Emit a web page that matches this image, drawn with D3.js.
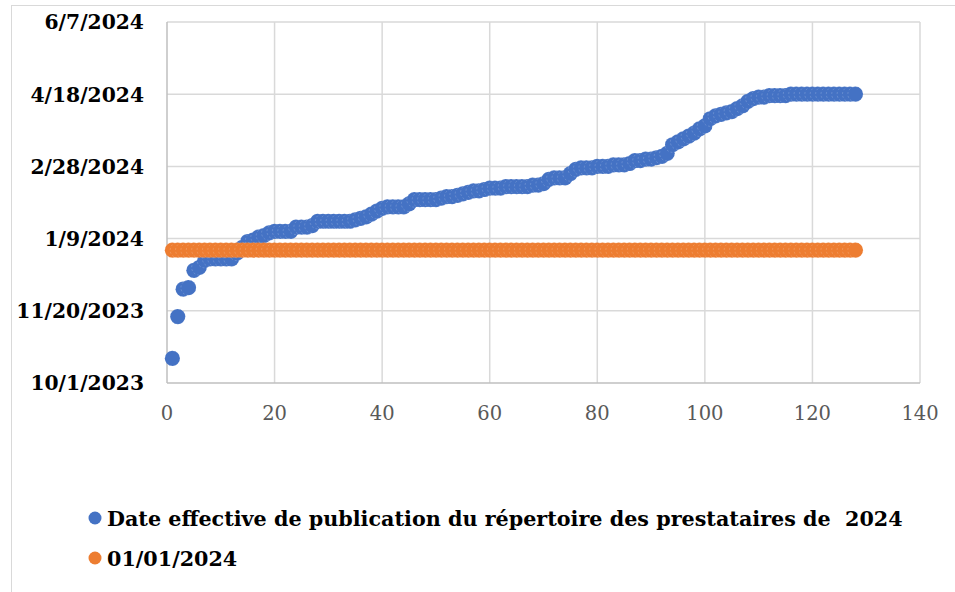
<!DOCTYPE html>
<html>
<head>
<meta charset="utf-8">
<script src="https://cdn.jsdelivr.net/npm/d3@7"></script>
<style>
  body { margin: 0; background: #fff; }
  svg { display: block; }
</style>
</head>
<body>
<script>
const width = 955;
const height = 592;

// Dates, one per provider (x = 1..128).
const publicationDates = [
  "2023-10-18", "2023-11-16", "2023-12-05", "2023-12-06", "2023-12-18", "2023-12-20", "2023-12-25", "2023-12-26",
  "2023-12-26", "2023-12-26", "2023-12-26", "2023-12-26", "2023-12-30", "2024-01-03", "2024-01-07", "2024-01-08",
  "2024-01-10", "2024-01-11", "2024-01-13", "2024-01-14", "2024-01-14", "2024-01-14", "2024-01-14", "2024-01-17",
  "2024-01-17", "2024-01-17", "2024-01-18", "2024-01-21", "2024-01-21", "2024-01-21", "2024-01-21", "2024-01-21",
  "2024-01-21", "2024-01-21", "2024-01-22", "2024-01-23", "2024-01-24", "2024-01-26", "2024-01-28", "2024-01-30",
  "2024-01-31", "2024-01-31", "2024-01-31", "2024-01-31", "2024-02-02", "2024-02-05", "2024-02-05", "2024-02-05",
  "2024-02-05", "2024-02-05", "2024-02-06", "2024-02-07", "2024-02-07", "2024-02-08", "2024-02-09", "2024-02-10",
  "2024-02-11", "2024-02-11", "2024-02-12", "2024-02-13", "2024-02-13", "2024-02-13", "2024-02-14", "2024-02-14",
  "2024-02-14", "2024-02-14", "2024-02-14", "2024-02-15", "2024-02-15", "2024-02-16", "2024-02-19", "2024-02-20",
  "2024-02-20", "2024-02-20", "2024-02-23", "2024-02-26", "2024-02-27", "2024-02-27", "2024-02-27", "2024-02-28",
  "2024-02-28", "2024-02-28", "2024-02-29", "2024-02-29", "2024-02-29", "2024-03-01", "2024-03-03", "2024-03-03",
  "2024-03-04", "2024-03-04", "2024-03-05", "2024-03-06", "2024-03-08", "2024-03-14", "2024-03-16", "2024-03-18",
  "2024-03-20", "2024-03-22", "2024-03-25", "2024-03-27", "2024-04-01", "2024-04-03", "2024-04-04", "2024-04-05",
  "2024-04-06", "2024-04-08", "2024-04-10", "2024-04-13", "2024-04-15", "2024-04-16", "2024-04-16", "2024-04-17",
  "2024-04-17", "2024-04-17", "2024-04-17", "2024-04-18", "2024-04-18", "2024-04-18", "2024-04-18", "2024-04-18",
  "2024-04-18", "2024-04-18", "2024-04-18", "2024-04-18", "2024-04-18", "2024-04-18", "2024-04-18", "2024-04-18"
];
const referenceDate = "2024-01-01";

const seriesNames = [
  "Date effective de publication du répertoire des prestataires de  2024",
  "01/01/2024"
];
const seriesColors = ["#4472C4", "#ED7D31"];

const xTicks = [0, 20, 40, 60, 80, 100, 120, 140];
const yTicks = ["2023-10-01", "2023-11-20", "2024-01-09", "2024-02-28", "2024-04-18", "2024-06-07"];

const parse = d3.timeParse("%Y-%m-%d");
const fmt = d3.timeFormat("%-m/%-d/%Y");

const blueData = publicationDates.map((d, i) => ({ x: i + 1, y: parse(d) }));
const orangeData = publicationDates.map((d, i) => ({ x: i + 1, y: parse(referenceDate) }));

const svg = d3.select("body").append("svg")
  .attr("width", width)
  .attr("height", height);

// Chart frame.
svg.append("rect")
  .attr("x", 11.5).attr("y", 5.5)
  .attr("width", width).attr("height", height)
  .attr("fill", "none")
  .attr("stroke", "#d9d9d9");

const x = d3.scaleLinear().domain([0, 140]).range([167, 920]);
const y = d3.scaleTime()
  .domain([parse(yTicks[0]), parse(yTicks[yTicks.length - 1])])
  .range([383, 22]);

// Gridlines.
svg.append("g").selectAll("line")
  .data(yTicks.slice(1))
  .enter().append("line")
  .attr("x1", x(0)).attr("x2", x(140))
  .attr("y1", d => y(parse(d))).attr("y2", d => y(parse(d)))
  .attr("stroke", "#d9d9d9").attr("stroke-width", 1.5);

svg.append("g").selectAll("line")
  .data(xTicks.slice(1))
  .enter().append("line")
  .attr("x1", d => x(d)).attr("x2", d => x(d))
  .attr("y1", y.range()[0]).attr("y2", y.range()[1])
  .attr("stroke", "#d9d9d9").attr("stroke-width", 1.5);

// Axis lines.
svg.append("line")
  .attr("x1", x(0)).attr("x2", x(0))
  .attr("y1", y.range()[0]).attr("y2", y.range()[1])
  .attr("stroke", "#bfbfbf").attr("stroke-width", 1.5);
svg.append("line")
  .attr("x1", x(0)).attr("x2", x(140))
  .attr("y1", y.range()[0]).attr("y2", y.range()[0])
  .attr("stroke", "#bfbfbf").attr("stroke-width", 1.5);

// Tick labels.
svg.append("g").selectAll("text")
  .data(yTicks)
  .enter().append("text")
  .attr("x", 144)
  .attr("y", d => y(parse(d)))
  .attr("dy", "0.36em")
  .attr("text-anchor", "end")
  .style("font-family", "'DejaVu Serif', serif")
  .style("font-weight", "bold")
  .style("font-size", "20.3px")
  .attr("fill", "#000")
  .text(d => fmt(parse(d)));

svg.append("g").selectAll("text")
  .data(xTicks)
  .enter().append("text")
  .attr("x", d => x(d))
  .attr("y", 420)
  .attr("text-anchor", "middle")
  .style("font-family", "'DejaVu Serif', serif")
  .style("font-size", "19.5px")
  .attr("fill", "#595959")
  .text(d => d);

// Markers: blue series first, orange line of dots on top.
[blueData, orangeData].forEach((data, i) => {
  svg.append("g").selectAll("circle")
    .data(data)
    .enter().append("circle")
    .attr("cx", d => x(d.x))
    .attr("cy", d => y(d.y))
    .attr("r", 7.6)
    .attr("fill", seriesColors[i])
    .attr("stroke", "#fff")
    .attr("stroke-opacity", 0.3)
    .attr("stroke-width", 0.6)
    .attr("stroke-dasharray", "2,2");
});

// Legend.
const legend = svg.append("g").selectAll("g")
  .data(seriesNames)
  .enter().append("g")
  .attr("transform", (d, i) => `translate(95,${518 + i * 40})`);

legend.append("circle")
  .attr("r", 6.5)
  .attr("fill", (d, i) => seriesColors[i]);

legend.append("text")
  .attr("x", 12)
  .attr("y", 7.5)
  .style("font-family", "'DejaVu Serif', serif")
  .style("font-weight", "bold")
  .style("font-size", "20.7px")
  .style("white-space", "pre")
  .attr("fill", "#000")
  .text(d => d);
</script>
</body>
</html>
